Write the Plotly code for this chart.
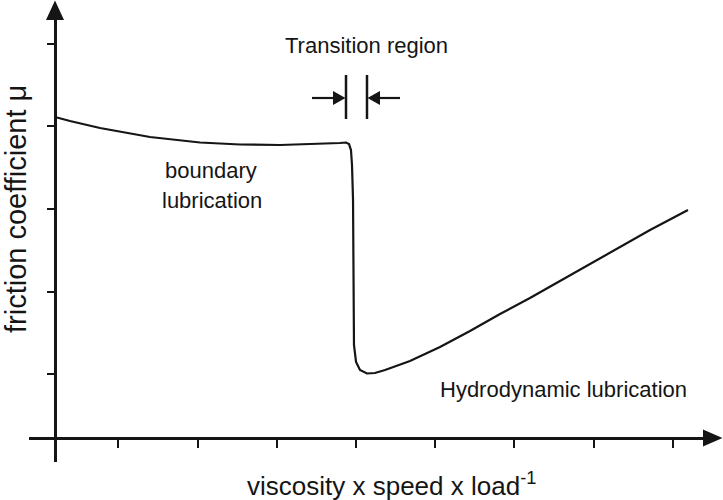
import plotly.graph_objects as go

# ---- data (axis units: x in tick spacings from origin, y in tick spacings from origin) ----
curve_x = [0.0, 0.189, 0.568, 1.199, 1.831, 2.336, 2.841, 3.346, 3.598, 3.674, 3.712,
           3.737, 3.750, 3.763, 3.769, 3.775, 3.801, 3.851, 3.939, 4.040, 4.167, 4.482,
           4.861, 5.240, 5.619, 5.997, 6.376, 6.755, 7.134, 7.513, 7.992]
curve_y = [3.882, 3.833, 3.748, 3.640, 3.573, 3.549, 3.543, 3.555, 3.567, 3.573, 3.555,
           3.482, 3.301, 2.878, 1.669, 1.125, 0.919, 0.822, 0.780, 0.786, 0.822, 0.931,
           1.100, 1.294, 1.499, 1.693, 1.898, 2.104, 2.310, 2.515, 2.757]
x_ticks = [0.8, 1.8, 2.8, 3.8, 4.8, 5.8, 6.8, 7.8]
y_ticks = [0.77, 1.77, 2.77, 3.77, 4.77]

x_title = "viscosity x speed x load<sup>-1</sup>"
y_title = "friction coefficient \u03bc"
label_transition = "Transition region"
label_boundary = ["boundary", "lubrication"]
label_hydro = "Hydrodynamic lubrication"

# ---- layout helpers (pixel -> paper) ----
W, H = 723, 500
def px(x):
    return x / W
def py(y):
    return 1 - y / H

X0, Y0 = 55, 438          # origin pixel
SX, SY = 79.2, 82.7       # pixels per unit
x_left, x_right = 29, 705
y_bottom, y_top = 462, 19

FONT = "Liberation Sans, Arial, Helvetica, sans-serif"
INK = "#151515"

fig = go.Figure()
fig.add_trace(go.Scatter(x=curve_x, y=curve_y, mode="lines",
                         line=dict(color=INK, width=2.2), hoverinfo="skip",
                         showlegend=False, cliponaxis=False))

fig.update_layout(
    width=W, height=H,
    margin=dict(l=0, r=0, t=0, b=0),
    paper_bgcolor="white", plot_bgcolor="white",
    showlegend=False,
    xaxis=dict(domain=[px(x_left), px(x_right)],
               range=[(x_left - X0) / SX, (x_right - X0) / SX],
               anchor="free", position=py(Y0),
               showline=True, linecolor=INK, linewidth=3,
               showgrid=False, zeroline=False,
               tickmode="array", tickvals=x_ticks, showticklabels=False,
               ticks="outside", ticklen=8, tickwidth=2, tickcolor=INK,
               automargin=False, fixedrange=True),
    yaxis=dict(domain=[py(y_bottom), py(y_top)],
               range=[(Y0 - y_bottom) / SY, (Y0 - y_top) / SY],
               anchor="free", position=px(X0),
               showline=True, linecolor=INK, linewidth=3,
               showgrid=False, zeroline=False,
               tickmode="array", tickvals=y_ticks, showticklabels=False,
               ticks="outside", ticklen=7, tickwidth=2, tickcolor=INK,
               automargin=False, fixedrange=True),
)

shapes = []
# axis arrowheads
shapes.append(dict(type="path", xref="paper", yref="paper",
                   path=f"M {px(X0)} {py(0.5)} L {px(X0-9)} {py(20)} L {px(X0+9)} {py(20)} Z",
                   fillcolor=INK, line=dict(width=0)))
shapes.append(dict(type="path", xref="paper", yref="paper",
                   path=f"M {px(722.5)} {py(Y0)} L {px(703)} {py(Y0-8.5)} L {px(703)} {py(Y0+8.5)} Z",
                   fillcolor=INK, line=dict(width=0)))
# transition marker bars
for bx in (346, 367):
    shapes.append(dict(type="line", xref="paper", yref="paper",
                       x0=px(bx), x1=px(bx), y0=py(75), y1=py(119),
                       line=dict(color=INK, width=2.5)))
# transition arrows
AY = 98
shapes.append(dict(type="line", xref="paper", yref="paper",
                   x0=px(312), x1=px(335), y0=py(AY), y1=py(AY),
                   line=dict(color=INK, width=2.2)))
shapes.append(dict(type="path", xref="paper", yref="paper",
                   path=f"M {px(345.5)} {py(AY)} L {px(333)} {py(AY-7)} L {px(333)} {py(AY+7)} Z",
                   fillcolor=INK, line=dict(width=0)))
shapes.append(dict(type="line", xref="paper", yref="paper",
                   x0=px(378), x1=px(400), y0=py(AY), y1=py(AY),
                   line=dict(color=INK, width=2.2)))
shapes.append(dict(type="path", xref="paper", yref="paper",
                   path=f"M {px(367.5)} {py(AY)} L {px(380)} {py(AY-7)} L {px(380)} {py(AY+7)} Z",
                   fillcolor=INK, line=dict(width=0)))
fig.update_layout(shapes=shapes)

def label(text, x, y, size, angle=0):
    fig.add_annotation(text=text, xref="paper", yref="paper", x=px(x), y=py(y),
                       xanchor="center", yanchor="middle", showarrow=False,
                       textangle=angle, borderpad=0,
                       font=dict(family=FONT, size=size, color=INK))

label(label_transition, 366, 46, 22)
label(label_boundary[0], 211, 170, 22)
label(label_boundary[1], 212, 200, 22)
label(label_hydro, 563, 389, 22)
label(x_title, 391, 484, 26)
label(y_title, 16, 209, 29, angle=-90)

fig.write_html("out.html", config={"displayModeBar": False},
               post_script="document.body.style.margin='0px';document.body.style.overflow='hidden';")
